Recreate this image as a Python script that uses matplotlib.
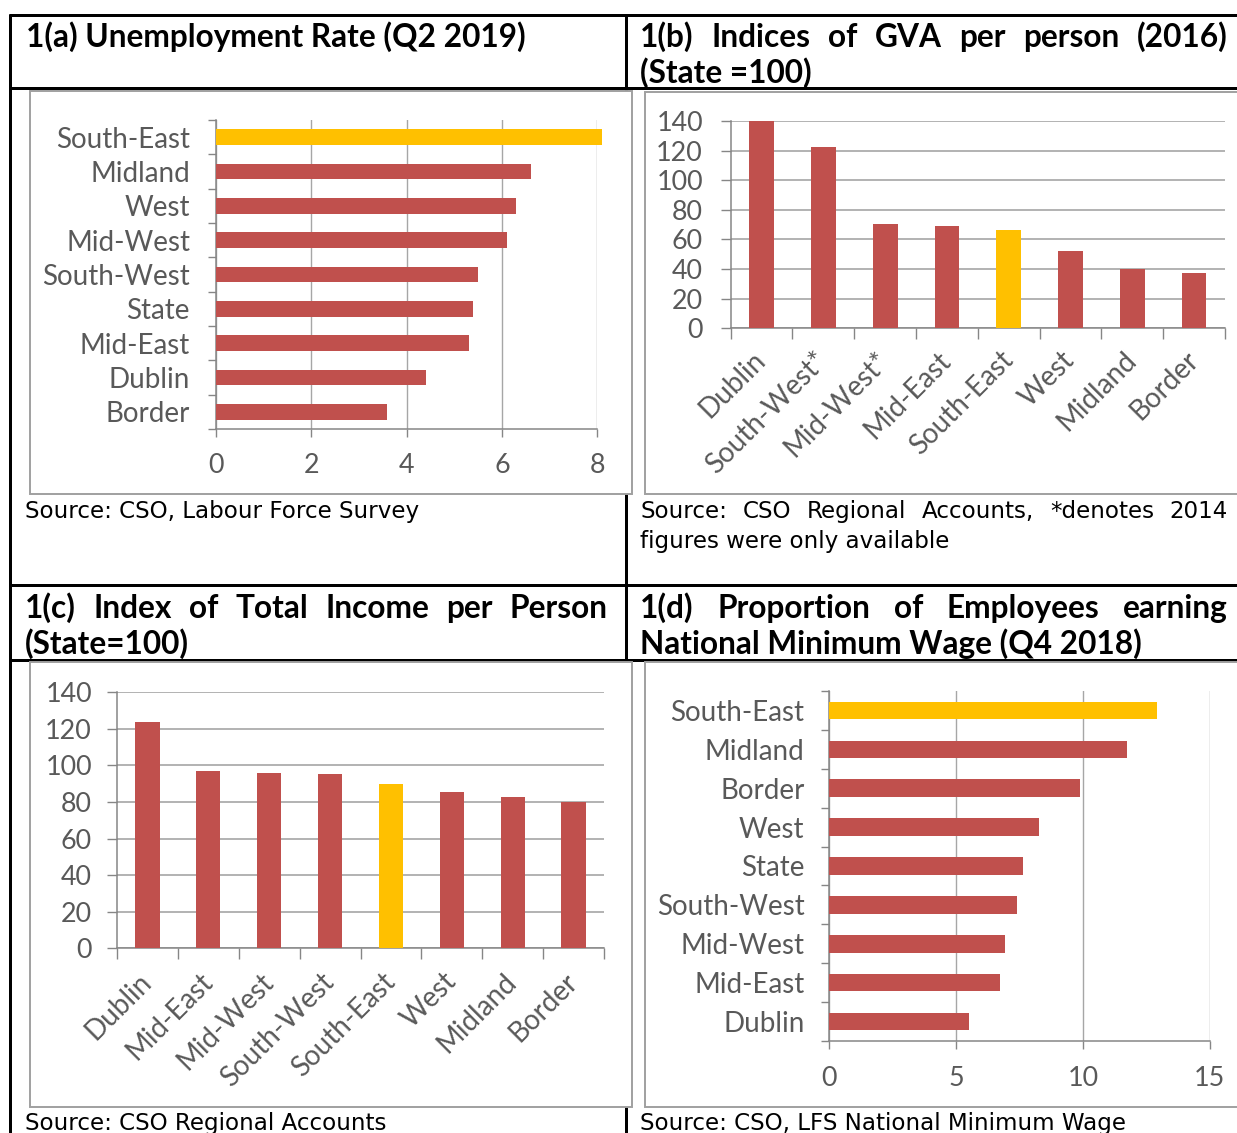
import matplotlib
matplotlib.use('Agg')
import matplotlib.pyplot as plt
from matplotlib.patches import Rectangle
from matplotlib.lines import Line2D
import numpy as np

W, H, DPI = 1237, 1133, 100

# ---------------- data ----------------
cats_a = ['South-East', 'Midland', 'West', 'Mid-West', 'South-West', 'State', 'Mid-East', 'Dublin', 'Border']
vals_a = [8.1, 6.6, 6.3, 6.1, 5.5, 5.4, 5.3, 4.4, 3.6]
xticks_a = [0, 2, 4, 6, 8]

cats_b = ['Dublin', 'South-West*', 'Mid-West*', 'Mid-East', 'South-East', 'West', 'Midland', 'Border']
vals_b = [140, 122.7, 70.3, 69.2, 66.5, 51.9, 40.1, 37.4]
yticks_b = [0, 20, 40, 60, 80, 100, 120, 140]

cats_c = ['Dublin', 'Mid-East', 'Mid-West', 'South-West', 'South-East', 'West', 'Midland', 'Border']
vals_c = [124.0, 97.2, 95.7, 95.2, 90.0, 85.6, 82.6, 79.9]
yticks_c = [0, 20, 40, 60, 80, 100, 120, 140]

cats_d = ['South-East', 'Midland', 'Border', 'West', 'State', 'South-West', 'Mid-West', 'Mid-East', 'Dublin']
vals_d = [12.94, 11.73, 9.90, 8.28, 7.62, 7.42, 6.92, 6.72, 5.50]
xticks_d = [0, 5, 10, 15]

highlight = 'South-East'

title_a = '1(a) Unemployment Rate (Q2 2019)'
title_b = ['1(b) Indices of GVA per person (2016)', '(State =100)']
title_c = ['1(c) Index of Total Income per Person', '(State=100)']
title_d = ['1(d) Proportion of Employees earning', 'National Minimum Wage (Q4 2018)']
src_a = 'Source: CSO, Labour Force Survey'
src_b = ['Source: CSO Regional Accounts, *denotes 2014', 'figures were only available']
src_c = 'Source: CSO Regional Accounts'
src_d = 'Source: CSO, LFS National Minimum Wage'

# ---------------- style ----------------
RED = '#C0504D'
YEL = '#FFC000'
GRID = '#A6A6A6'
AXC = '#868686'
LAB = '#595959'
FRAME = '#A0A0A0'
LBL_FONT = 'Lato'
TITLE_FONT = 'Lato'
SRC_FONT = 'DejaVu Sans'

plt.rcParams['font.family'] = 'Lato'

fig = plt.figure(figsize=(W / DPI, H / DPI), dpi=DPI)
fig.patch.set_facecolor('white')
renderer = fig.canvas.get_renderer()


def fx(x):
    return x / W


def fy(y):
    return 1 - y / H


def text_width(s, size, family, weight='normal'):
    t = fig.text(0, 0, s, fontsize=size, family=family, weight=weight)
    w = t.get_window_extent(renderer).width
    t.remove()
    return w


LBL_SIZE = 10 * 133.6 / text_width('South-East', 10, LBL_FONT)
NUM_SIZE = 10 * 47 / text_width('140', 10, LBL_FONT)
TITLE_SIZE = 10 * 502 / text_width(title_a, 10, TITLE_FONT, 'bold')
SRC_SIZE = 10 * 393 / text_width(src_a, 10, SRC_FONT)


def hline(y, x0, x1, lw=3, color='black', z=-3):
    fig.add_artist(Line2D([fx(x0), fx(x1)], [fy(y), fy(y)], transform=fig.transFigure,
                          color=color, lw=lw * 0.72, zorder=z, solid_capstyle='butt'))


def vline(x, y0, y1, lw=3, color='black', z=-3):
    fig.add_artist(Line2D([fx(x), fx(x)], [fy(y0), fy(y1)], transform=fig.transFigure,
                          color=color, lw=lw * 0.72, zorder=z, solid_capstyle='butt'))


def frame(l, t, r, b):
    fig.add_artist(Rectangle((fx(l), fy(b)), (r - l) / W, (b - t) / H, transform=fig.transFigure,
                             facecolor='white', edgecolor=FRAME, lw=1.4, zorder=-2))


def add_ax(l, t, r, b):
    ax = fig.add_axes([fx(l), fy(b), (r - l) / W, (b - t) / H])
    ax.set_facecolor('none')
    return ax


def put(s, x, ybase, size, family, weight='normal', color='black'):
    return fig.text(fx(x), fy(ybase), s, fontsize=size, family=family, weight=weight,
                    color=color, va='baseline', ha='left')


def justify(s, x0, x1, ybase, size, family, weight='normal'):
    words = s.split()
    texts = [put(w, x0, ybase, size, family, weight) for w in words]
    widths = [t.get_window_extent(renderer).width for t in texts]
    gap = (x1 - x0 - sum(widths)) / (len(words) - 1)
    x = x0
    for t, w in zip(texts, widths):
        t.set_x(fx(x))
        x += w + gap


# ---------------- table lines ----------------
for y in [15, 88, 584.5, 660]:
    hline(y, 8.5, 1237)
vline(10, 13.5, 1133)
vline(626, 13.5, 1133)

# ---------------- chart frames ----------------
frame(30, 91.5, 632, 494)
frame(645, 92, 1245, 494)
frame(30, 662, 632, 1107)
frame(645, 662, 1245, 1107)


def style_spines(ax):
    for s in ['top', 'right']:
        ax.spines[s].set_visible(False)
    for s in ['left', 'bottom']:
        ax.spines[s].set_color(AXC)
        ax.spines[s].set_linewidth(1.1)


def hbar(ax, cats, vals, xticks, ypad, xpad):
    n = len(cats)
    y = np.arange(n)
    colors = [YEL if c == highlight else RED for c in cats]
    ax.barh(y, vals, height=0.45, color=colors, zorder=3, clip_on=False)
    ax.set_ylim(n - 0.5, -0.5)
    ax.set_xlim(xticks[0], xticks[-1])
    ax.set_xticks(xticks)
    ax.set_yticks(y)
    ax.set_yticklabels(cats)
    ax.set_yticks(np.arange(-0.5, n, 1), minor=True)
    ax.tick_params(axis='y', which='major', length=0, pad=ypad, labelsize=LBL_SIZE, labelcolor=LAB)
    ax.tick_params(axis='y', which='minor', length=6, color=AXC, width=1)
    ax.tick_params(axis='x', which='major', length=6, color=AXC, width=1, pad=xpad,
                   labelsize=NUM_SIZE, labelcolor=LAB)
    ax.grid(axis='x', color=GRID, lw=1)
    ax.set_axisbelow(True)
    style_spines(ax)


def vbar(ax, cats, vals, yticks, ypad, xpad):
    n = len(cats)
    x = np.arange(n)
    colors = [YEL if c == highlight else RED for c in cats]
    ax.bar(x, vals, width=0.4, color=colors, zorder=3)
    ax.set_xlim(-0.5, n - 0.5)
    ax.set_ylim(yticks[0], yticks[-1])
    ax.set_yticks(yticks)
    ax.set_xticks(x)
    ax.set_xticklabels(cats, rotation=45, ha='right', va='center', rotation_mode='anchor')
    ax.set_xticks(np.arange(-0.5, n, 1), minor=True)
    ax.tick_params(axis='x', which='major', length=0, pad=xpad, labelsize=LBL_SIZE, labelcolor=LAB)
    ax.tick_params(axis='x', which='minor', length=8, color=AXC, width=1)
    ax.tick_params(axis='y', which='major', length=7, color=AXC, width=1, pad=ypad,
                   labelsize=NUM_SIZE, labelcolor=LAB)
    ax.grid(axis='y', color=GRID, lw=1.2)
    ax.set_axisbelow(True)
    style_spines(ax)


ax_a = add_ax(215.7, 120, 597.3, 429)
hbar(ax_a, cats_a, vals_a, xticks_a, ypad=18.5, xpad=11)

ax_b = add_ax(730.7, 121, 1225, 328.3)
vbar(ax_b, cats_b, vals_b, yticks_b, ypad=13, xpad=20)

ax_c = add_ax(117, 692.3, 604, 948.3)
vbar(ax_c, cats_c, vals_c, yticks_c, ypad=11, xpad=21)

ax_d = add_ax(829.4, 691, 1209.6, 1041)
hbar(ax_d, cats_d, vals_d, xticks_d, ypad=18, xpad=12)

# ---------------- headers ----------------
put(title_a, 26, 46.7, TITLE_SIZE, TITLE_FONT, 'bold')
justify(title_b[0], 640, 1228, 46.7, TITLE_SIZE, TITLE_FONT, 'bold')
put(title_b[1], 640, 82.5, TITLE_SIZE, TITLE_FONT, 'bold')
justify(title_c[0], 25, 608, 618.3, TITLE_SIZE, TITLE_FONT, 'bold')
put(title_c[1], 25, 653.5, TITLE_SIZE, TITLE_FONT, 'bold')
justify(title_d[0], 640, 1228, 618.3, TITLE_SIZE, TITLE_FONT, 'bold')
put(title_d[1], 640, 653.5, TITLE_SIZE, TITLE_FONT, 'bold')

# ---------------- sources ----------------
put(src_a, 25, 518, SRC_SIZE, SRC_FONT)
justify(src_b[0], 640, 1228, 518, SRC_SIZE, SRC_FONT)
put(src_b[1], 640, 548, SRC_SIZE, SRC_FONT)
put(src_c, 25, 1130, SRC_SIZE, SRC_FONT)
put(src_d, 640, 1130, SRC_SIZE, SRC_FONT)

fig.savefig('out.png', dpi=DPI, facecolor='white')
